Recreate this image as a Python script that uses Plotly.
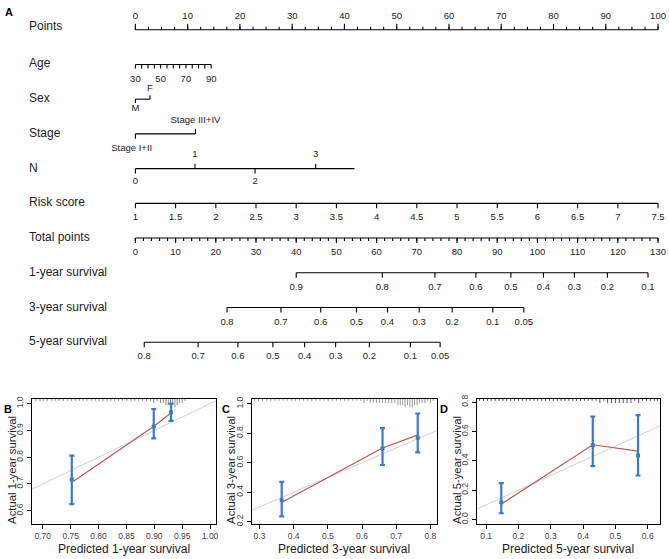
import plotly.graph_objects as go

W, H = 669, 559
FONT = "Liberation Sans, Arial, sans-serif"

# ---------------- Nomogram data (positions in "Points" units) ----------------
row_names = ["Points", "Age", "Sex", "Stage", "N", "Risk score", "Total points",
             "1-year survival", "3-year survival", "5-year survival"]

points_labels = [0, 10, 20, 30, 40, 50, 60, 70, 80, 90, 100]
points_minor = [i * 2.5 for i in range(41)]

age_ticks = [30, 35, 40, 45, 50, 55, 60, 65, 70, 75, 80, 85, 90]
age_labels = [30, 50, 70, 90]
age_points_max = 14.5  # points at age 90

sex_levels = ["M", "F"]
sex_points = [0.0, 2.8]

stage_levels = ["Stage I+II", "Stage III+IV"]
stage_points = [0.0, 11.5]

n_levels = ["0", "1", "2", "3"]
n_points = [0.0, 11.4, 22.9, 34.5]
n_line_end = 41.9

risk_ticks = [1, 1.5, 2, 2.5, 3, 3.5, 4, 4.5, 5, 5.5, 6, 6.5, 7, 7.5]

total_labels = [0, 10, 20, 30, 40, 50, 60, 70, 80, 90, 100, 110, 120, 130]
total_minor = [i * 2 for i in range(66)]

surv1_labels = ["0.9", "0.8", "0.7", "0.6", "0.5", "0.4", "0.3", "0.2", "0.1"]
surv1_total = [40.0, 61.4, 74.5, 84.7, 93.4, 101.5, 109.2, 117.4, 127.5]
surv3_labels = ["0.8", "0.7", "0.6", "0.5", "0.4", "0.3", "0.2", "0.1", "0.05"]
surv3_total = [22.8, 36.2, 46.1, 55.0, 62.7, 70.6, 78.8, 88.9, 96.6]
surv5_labels = ["0.8", "0.7", "0.6", "0.5", "0.4", "0.3", "0.2", "0.1", "0.05"]
surv5_total = [2.2, 15.6, 25.5, 34.2, 42.1, 49.8, 58.2, 68.4, 75.8]

# ---------------- Calibration data ----------------
# B: 1-year
b_pred = [0.752, 0.899, 0.930]
b_obs = [0.717, 0.915, 0.968]
b_lo = [0.625, 0.870, 0.936]
b_hi = [0.806, 0.980, 1.000]
b_curve_x = [0.755, 0.898, 0.930]
b_curve_y = [0.710, 0.914, 0.965]
b_rug_x = [0.688, 0.695, 0.701, 0.708, 0.716, 0.722, 0.729, 0.737, 0.744, 0.751, 0.758, 0.766,
           0.772, 0.779, 0.787, 0.794, 0.801, 0.808, 0.815, 0.822, 0.829, 0.836, 0.843, 0.851,
           0.858, 0.865, 0.872, 0.879, 0.886, 0.893, 0.899, 0.905, 0.911, 0.916, 0.921, 0.925,
           0.929, 0.933, 0.937, 0.941, 0.945, 0.950, 0.955]
b_rug_n = [1, 1, 1, 1, 1, 1, 1, 1, 1, 1, 1, 1, 1, 1, 1, 1, 1, 1, 1, 1, 1, 1, 1, 1,
           1, 1, 1, 1, 1, 1, 2, 1, 2, 2, 3, 3, 4, 3, 4, 3, 2, 2, 1]

# C: 3-year
c_pred = [0.365, 0.660, 0.763]
c_obs = [0.345, 0.697, 0.770]
c_lo = [0.235, 0.585, 0.670]
c_hi = [0.470, 0.835, 0.935]
c_curve_x = [0.367, 0.660, 0.760]
c_curve_y = [0.333, 0.700, 0.786]
c_rug_x = [0.285, 0.297, 0.309, 0.321, 0.333, 0.345, 0.357, 0.369, 0.381, 0.393, 0.405, 0.417,
           0.429, 0.441, 0.453, 0.465, 0.477, 0.489, 0.501, 0.513, 0.525, 0.537, 0.549, 0.561,
           0.573, 0.585, 0.597, 0.606, 0.615, 0.624, 0.633, 0.642, 0.651, 0.660, 0.669, 0.678,
           0.687, 0.696, 0.705, 0.712, 0.719, 0.726, 0.733, 0.740, 0.747, 0.754, 0.761, 0.768,
           0.776, 0.784, 0.792, 0.800, 0.808]
c_rug_n = [1, 1, 1, 1, 1, 1, 1, 1, 1, 1, 1, 1, 1, 1, 1, 1, 1, 1, 1, 1, 1, 1, 1, 1,
           1, 1, 1, 2, 1, 2, 2, 2, 2, 2, 2, 2, 2, 2, 3, 3, 3, 4, 3, 4, 4, 3, 3, 2,
           2, 2, 1, 2, 1]

# D: 5-year
d_pred = [0.147, 0.430, 0.570]
d_obs = [0.118, 0.505, 0.436]
d_lo = [0.043, 0.364, 0.300]
d_hi = [0.248, 0.700, 0.711]
d_curve_x = [0.150, 0.430, 0.570]
d_curve_y = [0.109, 0.509, 0.466]
d_rug_x = [0.080, 0.092, 0.104, 0.116, 0.128, 0.140, 0.152, 0.164, 0.176, 0.188, 0.200, 0.212,
           0.224, 0.236, 0.248, 0.260, 0.272, 0.284, 0.296, 0.308, 0.320, 0.332, 0.344, 0.356,
           0.368, 0.380, 0.392, 0.404, 0.416, 0.428, 0.440, 0.452, 0.464, 0.476, 0.488, 0.500,
           0.512, 0.524, 0.536, 0.548, 0.560, 0.572, 0.584, 0.596, 0.608, 0.620, 0.630]
d_rug_n = [1, 1, 1, 1, 1, 1, 1, 1, 1, 1, 1, 1, 1, 1, 1, 1, 1, 1, 1, 1, 1, 1, 1, 1,
           1, 1, 1, 1, 1, 1, 1, 2, 1, 2, 2, 2, 2, 2, 2, 2, 1, 2, 1, 1, 1, 1, 1]

# ---------------- Layout geometry (page pixels) ----------------
ROW = 35.1                 # px per nomogram row
ROW0_PX = 26               # page y of the Points axis line
NOM_BOT_PX = 380
X0_PX, PT_PX = 136, 5.25   # page x of Points 0, px per point


def fx(px):  # page x -> paper fraction
    return px / W


def fy(px):  # page y -> paper fraction
    return 1 - px / H


def py(px):
    return px / ROW


fig = go.Figure()


def add_segments(xs, ys, xaxis="x", yaxis="y", color="black", width=1.1):
    fig.add_trace(go.Scatter(x=xs, y=ys, mode="lines", xaxis=xaxis, yaxis=yaxis,
                             line=dict(color=color, width=width), hoverinfo="skip",
                             showlegend=False))


def add_texts(xs, ys, texts, size=9.5, color="#222"):
    fig.add_trace(go.Scatter(x=xs, y=ys, text=texts, mode="text", textposition="middle center",
                             textfont=dict(family=FONT, size=size, color=color),
                             hoverinfo="skip", showlegend=False))


def scale_row(row, pos, lab_pos, labels, tick_dir, tick_len, lab_off, line_from=None, line_to=None,
              minor=None, minor_len=3):
    lo = min(pos) if line_from is None else line_from
    hi = max(pos) if line_to is None else line_to
    xs, ys = [lo, hi, None], [row, row, None]
    for p, d in zip(pos, tick_dir):
        xs += [p, p, None]
        ys += [row, row + d * py(tick_len), None]
    if minor:
        for p in minor:
            xs += [p, p, None]
            ys += [row, row + tick_dir[0] * py(minor_len), None]
    add_segments(xs, ys)
    add_texts(lab_pos, [row + py(o) for o in lab_off], labels)


# Points (row 0)
scale_row(0, points_labels, points_labels, [str(v) for v in points_labels],
          [-1] * len(points_labels), 6, [-13] * len(points_labels), minor=points_minor, minor_len=3)
# Age (row 1)
age_pts = [(a - 30) / 60 * age_points_max for a in age_ticks]
age_lab_pts = [(a - 30) / 60 * age_points_max for a in age_labels]
scale_row(1, age_pts, age_lab_pts, [str(a) for a in age_labels], [1] * len(age_pts), 4,
          [15] * len(age_labels))
# Sex (row 2)
scale_row(2, sex_points, sex_points, sex_levels, [1, -1], 4, [10, -11])
# Stage (row 3)
scale_row(3, stage_points, [stage_points[0] - 0.7, stage_points[1]], stage_levels, [1, -1], 5, [15, -13])
# N (row 4)
scale_row(4, n_points, n_points, n_levels, [1, -1, 1, -1], 5, [13, -14, 13, -14], line_to=n_line_end)
# Risk score (row 5)
risk_pts = [(r - 1) / 6.5 * 100 for r in risk_ticks]
scale_row(5, risk_pts, risk_pts, [("%g" % r) for r in risk_ticks], [1] * len(risk_pts), 5,
          [14] * len(risk_pts))
# Total points (row 6)
tp = lambda v: v * 100 / 130
scale_row(6, [tp(v) for v in total_labels], [tp(v) for v in total_labels],
          [str(v) for v in total_labels], [1] * len(total_labels), 5, [15] * len(total_labels),
          minor=[tp(v) for v in total_minor], minor_len=3)
# Survival rows
for row, labs, tots in [(7, surv1_labels, surv1_total), (8, surv3_labels, surv3_total),
                        (9, surv5_labels, surv5_total)]:
    pts = [tp(v) for v in tots]
    scale_row(row, pts, pts, labs, [1] * len(pts), 5, [15] * len(pts))

annotations = []
label_x = (27 - X0_PX) / PT_PX
for i, name in enumerate(row_names):
    off = -4 if i == 0 else -1
    annotations.append(dict(x=label_x, y=i + py(off), xref="x", yref="y", text=name, showarrow=False,
                            xanchor="left", yanchor="middle",
                            font=dict(family=FONT, size=12, color="#222")))

# axis ranges so that page pixels map as measured
x_lo = (0 - X0_PX) / PT_PX
x_hi = (W - X0_PX) / PT_PX
y_lo = (0 - ROW0_PX) / ROW
y_hi = (NOM_BOT_PX - ROW0_PX) / ROW

layout = dict(
    width=W, height=H, margin=dict(l=0, r=0, t=0, b=0),
    paper_bgcolor="white", plot_bgcolor="rgba(0,0,0,0)", showlegend=False,
    xaxis=dict(domain=[0, 1], range=[x_lo, x_hi], visible=False),
    yaxis=dict(domain=[fy(NOM_BOT_PX), 1], range=[y_hi, y_lo], visible=False),
)

# ---------------- Calibration panels ----------------
BLUE = "#3a7cc4"
RED = "#c0584d"
panels = [
    dict(ax="2", xdom=(32, 217), xr=(0.6804, 1.0107), yr=(0.551, 1.0184), xt=[0.70, 0.75, 0.80, 0.85, 0.90, 0.95, 1.00],
         xfmt=".2f", yt=[0.6, 0.7, 0.8, 0.9, 1.0], pred=b_pred, obs=b_obs, lo=b_lo, hi=b_hi,
         cx=b_curve_x, cy=b_curve_y, rx=b_rug_x, rn=b_rug_n, rugc="#8a8a8a",
         xtitle="Predicted 1-year survival", ytitle="Actual 1-year survival", letter="B", lx=8, ytx=12),
    dict(ax="3", xdom=(253, 439), xr=(0.2776, 0.8195), yr=(0.1846, 1.0355), xt=[0.3, 0.4, 0.5, 0.6, 0.7, 0.8],
         xfmt=".1f", yt=[0.2, 0.4, 0.6, 0.8, 1.0], pred=c_pred, obs=c_obs, lo=c_lo, hi=c_hi,
         cx=c_curve_x, cy=c_curve_y, rx=c_rug_x, rn=c_rug_n, rugc="#999999",
         xtitle="Predicted 3-year survival", ytitle="Actual 3-year survival", letter="C", lx=227, ytx=232),
    dict(ax="4", xdom=(479, 663), xr=(0.0714, 0.638), yr=(-0.0293, 0.8225), xt=[0.1, 0.2, 0.3, 0.4, 0.5, 0.6],
         xfmt=".1f", yt=[0.0, 0.2, 0.4, 0.6, 0.8], pred=d_pred, obs=d_obs, lo=d_lo, hi=d_hi,
         cx=d_curve_x, cy=d_curve_y, rx=d_rug_x, rn=d_rug_n, rugc="#555555",
         xtitle="Predicted 5-year survival", ytitle="Actual 5-year survival", letter="D", lx=446, ytx=459),
]
YDOM_PX = (399, 525.5)
for p in panels:
    a = p["ax"]
    xa, ya = "x" + a, "y" + a
    layout["xaxis" + a] = dict(
        domain=[fx(p["xdom"][0]), fx(p["xdom"][1])], range=list(p["xr"]), anchor=ya,
        showline=True, mirror=True, linecolor="black", linewidth=1, showgrid=False, zeroline=False,
        ticks="outside", ticklen=4, tickcolor="black", tickvals=p["xt"], tickformat=p["xfmt"],
        tickfont=dict(family=FONT, size=8.5, color="#444"))
    layout["yaxis" + a] = dict(
        domain=[fy(YDOM_PX[1]), fy(YDOM_PX[0])], range=list(p["yr"]), anchor=xa,
        showline=True, mirror=True, linecolor="black", linewidth=1, showgrid=False, zeroline=False,
        ticks="outside", ticklen=4, tickcolor="black", tickvals=p["yt"], tickformat=".1f", tickangle=-90,
        tickfont=dict(family=FONT, size=8.5, color="#444"))
    # diagonal reference
    add_segments([-1, 2], [-1, 2], xaxis=xa, yaxis=ya, color="#cfcfcf", width=1)
    # rug spikes at top
    ypx = (YDOM_PX[1] - YDOM_PX[0]) / (p["yr"][1] - p["yr"][0])
    top = p["yr"][1]
    rx, ry = [], []
    for x, n in zip(p["rx"], p["rn"]):
        rx += [x, x, None]
        ry += [top, top - n * 2.2 / ypx, None]
    add_segments(rx, ry, xaxis=xa, yaxis=ya, color=p["rugc"], width=1)
    # calibration curve
    add_segments(p["cx"], p["cy"], xaxis=xa, yaxis=ya, color=RED, width=1.2)
    # observed with CI
    fig.add_trace(go.Scatter(
        x=p["pred"], y=p["obs"], mode="markers", xaxis=xa, yaxis=ya,
        marker=dict(symbol="square", size=4, color=BLUE),
        error_y=dict(type="data", symmetric=False,
                     array=[h - o for h, o in zip(p["hi"], p["obs"])],
                     arrayminus=[o - l for o, l in zip(p["obs"], p["lo"])],
                     color=BLUE, thickness=2.2, width=2.5),
        hoverinfo="skip", showlegend=False))
    cx_px = (p["xdom"][0] + p["xdom"][1]) / 2
    annotations.append(dict(x=fx(cx_px), y=fy(551), xref="paper", yref="paper", text=p["xtitle"],
                            showarrow=False, xanchor="center", yanchor="middle",
                            font=dict(family=FONT, size=12, color="#222")))
    annotations.append(dict(x=fx(p["ytx"]), y=fy(471), xref="paper", yref="paper", text=p["ytitle"],
                            showarrow=False, textangle=-90, xanchor="center", yanchor="middle",
                            font=dict(family=FONT, size=11.3, color="#222")))
    annotations.append(dict(x=fx(p["lx"]), y=fy(409), xref="paper", yref="paper",
                            text="<b>%s</b>" % p["letter"], showarrow=False, xanchor="center",
                            yanchor="middle", font=dict(family=FONT, size=11, color="black")))

annotations.append(dict(x=fx(9), y=fy(8), xref="paper", yref="paper", text="<b>A</b>",
                        showarrow=False, xanchor="center", yanchor="middle",
                        font=dict(family=FONT, size=11, color="black")))

layout["annotations"] = annotations
fig.update_layout(**layout)
fig.write_html("out.html", config={"displayModeBar": False},
               post_script="document.body.style.margin='0';document.body.style.overflow='hidden';")
